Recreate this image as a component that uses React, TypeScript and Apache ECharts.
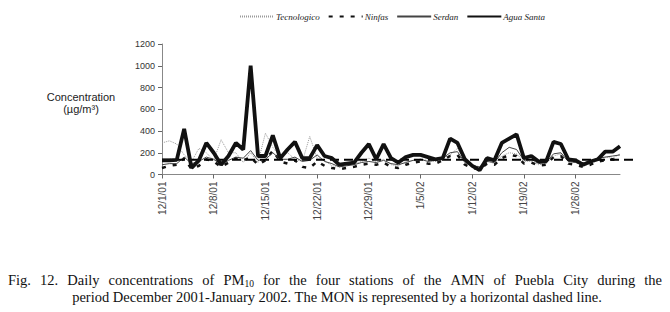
import React, { useEffect, useRef } from "react";
import * as echarts from "echarts";

const dates = [
  "12/1/01","12/2/01","12/3/01","12/4/01","12/5/01","12/6/01","12/7/01","12/8/01","12/9/01","12/10/01",
  "12/11/01","12/12/01","12/13/01","12/14/01","12/15/01","12/16/01","12/17/01","12/18/01","12/19/01","12/20/01",
  "12/21/01","12/22/01","12/23/01","12/24/01","12/25/01","12/26/01","12/27/01","12/28/01","12/29/01","12/30/01",
  "12/31/01","1/1/02","1/2/02","1/3/02","1/4/02","1/5/02","1/6/02","1/7/02","1/8/02","1/9/02",
  "1/10/02","1/11/02","1/12/02","1/13/02","1/14/02","1/15/02","1/16/02","1/17/02","1/18/02","1/19/02",
  "1/20/02","1/21/02","1/22/02","1/23/02","1/24/02","1/25/02","1/26/02","1/27/02","1/28/02","1/29/02",
  "1/30/02","1/31/02","2/1/02"
];

const tecnologico = [
  290, 310, 280, 180, 120, 240, 200, 130, 320, 200,
  200, 110, 200, 110, 380, 250, 160, 200, 140, 120,
  350, 150, 130, 80, 70, 100, 100, 120, 150, 120,
  140, 90, 80, 120, 130, 140, 130, 120, 150, 180,
  240, 130, 90, 70, 130, 100, 170, 200, 190, 120,
  120, 90, 100, 170, 190, 120, 110, 80, 100, 130,
  160, 150, 190
];

const ninfas = [
  60, 80, 90, 150, 50, 80, 140, 120, 70, 110,
  150, 130, 160, 90, 130, 220, 120, 100, 130, 70,
  60, 120, 80, 60, 50, 60, 70, 90, 100, 90,
  110, 70, 60, 90, 110, 120, 100, 100, 130, 170,
  180, 90, 60, 50, 100, 90, 150, 180, 170, 100,
  110, 80, 90, 160, 170, 100, 90, 70, 90, 120,
  130, 140, 120
];

const serdan = [
  90, 100, 100, 160, 100, 120, 160, 140, 90, 130,
  160, 150, 220, 130, 140, 200, 140, 140, 160, 120,
  130, 180, 120, 100, 70, 80, 90, 110, 120, 110,
  130, 100, 90, 110, 130, 140, 120, 130, 150, 200,
  210, 110, 80, 70, 120, 110, 200, 250, 230, 130,
  140, 100, 110, 190, 200, 120, 110, 90, 110, 150,
  160, 170, 180
];

const aguaSanta = [
  130, 130, 135, 420, 60, 130, 290, 200, 90, 170,
  290, 230, 1000, 170, 170, 360, 150, 230, 300, 150,
  150, 270, 170, 150, 90, 100, 110, 200, 280, 140,
  280, 150, 110, 160, 180, 180, 160, 140, 150, 330,
  290, 140, 80, 40, 150, 130, 290, 330, 370, 150,
  170, 120, 120, 300, 280, 140, 130, 90, 120, 140,
  210, 210, 260
];

const monValue = 135;
const yTicks = [0, 200, 400, 600, 800, 1000, 1200];

const captionLine1 = ["Fig.", "12.", "Daily", "concentrations", "of", "PM|10", "for", "the", "four", "stations", "of", "the", "AMN", "of", "Puebla", "City", "during", "the"];
const captionLine2 = "period December 2001-January 2002. The MON is represented by a horizontal dashed line.";

const SERIF = "Liberation Serif";
const SANS = "Liberation Sans";
const CAP_SIZE = 14.5;
const SUB_SIZE = 9.5;

function measure(text: string, size: number): number {
  const c = document.createElement("canvas").getContext("2d");
  if (!c) return text.length * size * 0.45;
  c.font = `${size}px "${SERIF}"`;
  return c.measureText(text).width;
}

export default function App() {
  const ref = useRef<HTMLDivElement>(null);
  useEffect(() => {
    if (!ref.current) return;
    const chart = echarts.init(ref.current, null, { renderer: "svg" });

    // justified first caption line
    const lineLeft = 8;
    const lineRight = 662;
    const widths = captionLine1.map((w) => {
      if (w.includes("|")) {
        const [a, b] = w.split("|");
        return measure(a, CAP_SIZE) + measure(b, SUB_SIZE);
      }
      return measure(w, CAP_SIZE);
    });
    const total = widths.reduce((s, v) => s + v, 0);
    const gap = (lineRight - lineLeft - total) / (captionLine1.length - 1);
    let cx = lineLeft;
    const wordGraphics: any[] = captionLine1.map((w, i) => {
      const x = cx;
      cx += widths[i] + gap;
      const text = w.includes("|") ? `{t|${w.split("|")[0]}}{s|${w.split("|")[1]}}` : `{t|${w}}`;
      return {
        type: "text",
        x,
        y: 280,
        style: {
          text,
          align: "left",
          verticalAlign: "middle",
          rich: {
            t: { fontFamily: SERIF, fontSize: CAP_SIZE, fill: "#111", lineHeight: 16 },
            s: { fontFamily: SERIF, fontSize: SUB_SIZE, fill: "#111", lineHeight: 16, padding: [7, 0, 0, 0] },
          },
        },
      };
    });

    chart.setOption({
      animation: false,
      backgroundColor: "#ffffff",
      legend: {
        left: 234,
        top: 7,
        itemWidth: 34,
        itemHeight: 10,
        itemGap: 8,
        itemStyle: { opacity: 0 },
        data: ["Tecnologico", "Ninfas", "Serdan", "Agua Santa"],
        textStyle: { fontFamily: SERIF, fontStyle: "italic", fontSize: 9, color: "#222", padding: [0, 0, 0, -3] },
      },
      grid: [
        { left: 162, right: 50, top: 44, bottom: 137.5 },
        { left: 162, right: 35, top: 44, bottom: 137.5 },
      ],
      xAxis: [
        {
          type: "category",
          gridIndex: 0,
          data: dates,
          boundaryGap: false,
          axisLine: { lineStyle: { color: "#888", width: 1 } },
          axisTick: { interval: 6, length: 4, lineStyle: { color: "#666" } },
          axisLabel: { interval: 6, rotate: 90, fontFamily: SANS, fontSize: 10, color: "#444", margin: 7 },
          splitLine: { show: false },
        },
        { type: "value", gridIndex: 1, min: 0, max: 1, show: false },
      ],
      yAxis: [
        {
          type: "value",
          gridIndex: 0,
          min: yTicks[0],
          max: yTicks[yTicks.length - 1],
          interval: 200,
          axisLine: { show: true, lineStyle: { color: "#888", width: 1 } },
          axisTick: { show: true, length: 4, lineStyle: { color: "#666" } },
          axisLabel: { fontFamily: SANS, fontSize: 9, color: "#333", margin: 7, formatter: (v: number) => String(v) },
          splitLine: { show: false },
        },
        { type: "value", gridIndex: 1, min: 0, max: 1200, show: false },
      ],
      series: [
        {
          name: "MON",
          type: "line",
          xAxisIndex: 1,
          yAxisIndex: 1,
          data: [[0, monValue], [1, monValue]],
          symbol: "none",
          lineStyle: { color: "#000", width: 2, type: [9, 5] },
          z: 3,
        },
        {
          name: "Tecnologico",
          type: "line",
          data: tecnologico,
          symbol: "none",
          lineStyle: { color: "#9a9a9a", width: 1, type: [1, 1] },
          itemStyle: { color: "#9a9a9a" },
          z: 2,
        },
        {
          name: "Ninfas",
          type: "line",
          data: ninfas,
          symbol: "none",
          lineStyle: { color: "#111", width: 2.5, type: [4, 7] },
          itemStyle: { color: "#111" },
          z: 2,
        },
        {
          name: "Serdan",
          type: "line",
          data: serdan,
          symbol: "none",
          lineStyle: { color: "#444", width: 1 },
          itemStyle: { color: "#444" },
          z: 2,
        },
        {
          name: "Agua Santa",
          type: "line",
          data: aguaSanta,
          symbol: "none",
          lineStyle: { color: "#111", width: 3.8 },
          itemStyle: { color: "#111" },
          z: 4,
        },
      ],
      graphic: [
        {
          type: "text",
          x: 81,
          y: 91,
          style: {
            text: "Concentration\n(\u00b5g/m\u00b3)",
            fontFamily: SANS,
            fontSize: 11,
            fill: "#222",
            align: "center",
            lineHeight: 12,
          },
        },
        ...wordGraphics,
        {
          type: "text",
          x: 337,
          y: 297,
          style: {
            text: captionLine2,
            fontFamily: SERIF,
            fontSize: CAP_SIZE,
            fill: "#111",
            align: "center",
            verticalAlign: "middle",
          },
        },
      ],
    });
    return () => chart.dispose();
  }, []);
  return <div ref={ref} style={{ position: "absolute", left: 0, top: 0, width: 670, height: 312 }} />;
}
